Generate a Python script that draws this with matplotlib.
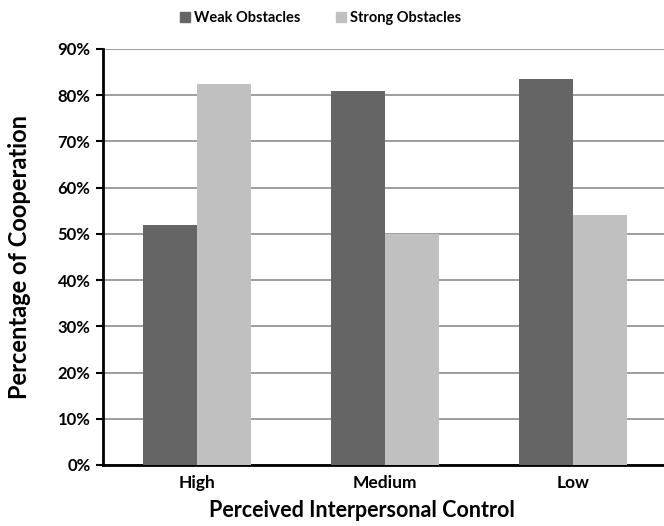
import matplotlib
matplotlib.use("Agg")
import matplotlib.pyplot as plt
import numpy as np
from matplotlib.patches import Patch

plt.rcParams['font.family'] = ['Lato', 'DejaVu Sans']

categories = ["High", "Medium", "Low"]
weak = [52, 81, 83.5]
strong = [82.5, 50, 54]
series_names = ["Weak Obstacles", "Strong Obstacles"]
yticks = [0, 10, 20, 30, 40, 50, 60, 70, 80, 90]

dark = "#656565"
light = "#c0c0c0"
fw = 'bold'

fig = plt.figure(figsize=(6.64, 5.26), dpi=100)
ax = fig.add_axes([0.155, 0.116, 0.845, 0.791])

x = np.arange(len(categories))
w = 0.285
ax.bar(x - w / 2, weak, w, color=dark, zorder=3)
ax.bar(x + w / 2, strong, w, color=light, zorder=3)

ax.set_xlim(-0.5, 2.484)
ax.set_ylim(0, 90)
ax.set_yticks(yticks)
ax.set_yticklabels([f"{t}%" for t in yticks], fontweight=fw, fontsize=12)
ax.set_xticks(x)
ax.set_xticklabels(categories, fontweight=fw, fontsize=12.5)
ax.tick_params(axis='x', length=0, pad=7)
ax.tick_params(axis='y', length=5, width=1.5, direction='out', pad=4)
ax.yaxis.grid(True, color='#8c8c8c', linewidth=1.2, zorder=0)
ax.set_axisbelow(True)

for s in ['top', 'right']:
    ax.spines[s].set_visible(False)
for s in ['left', 'bottom']:
    ax.spines[s].set_linewidth(2)
    ax.spines[s].set_color('black')

ax.set_xlabel("Perceived Interpersonal Control", fontsize=15.5, fontweight=fw)
ax.xaxis.set_label_coords(0.462, -0.085)
ax.set_ylabel("Percentage of Cooperation", fontsize=17, fontweight=fw)
ax.yaxis.set_label_coords(-0.128, 0.5)

handles = [Patch(color=dark), Patch(color=light)]
fig.legend(handles, series_names, loc='center', bbox_to_anchor=(0.483, 0.965), ncol=2,
           frameon=False, prop={'weight': fw, 'size': 10.5}, handlelength=0.7,
           handleheight=0.7, handletextpad=0.3, columnspacing=2.4)

fig.savefig("out.png", dpi=100)
